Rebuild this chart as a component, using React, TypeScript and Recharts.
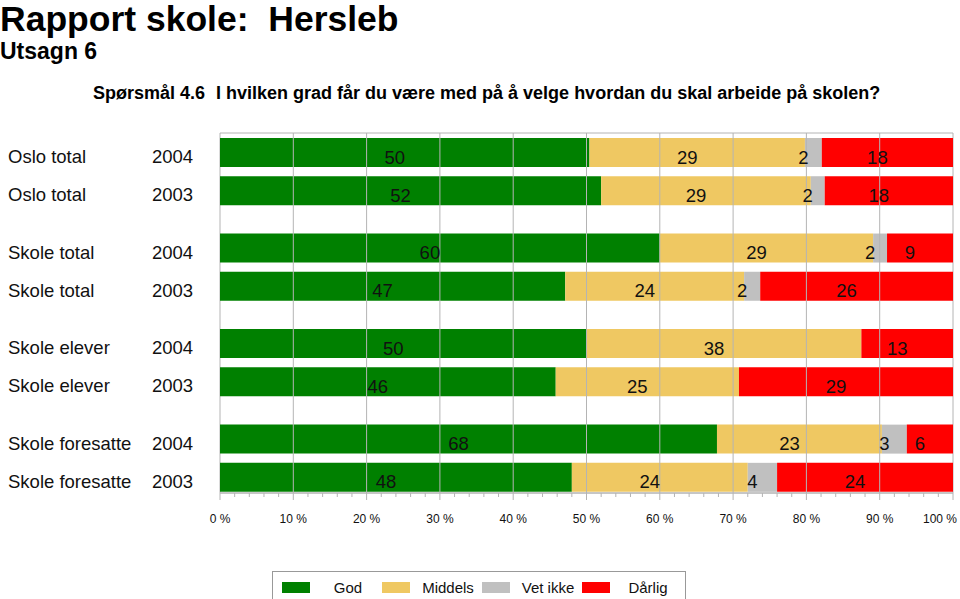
import { BarChart, Bar, XAxis, YAxis, LabelList, ReferenceLine, ReferenceArea, Legend } from 'recharts';

const groups = ['Oslo total', 'Oslo total', 'Skole total', 'Skole total', 'Skole elever', 'Skole elever', 'Skole foresatte', 'Skole foresatte'];
const years = ['2004', '2003', '2004', '2003', '2004', '2003', '2004', '2003'];
// row slots, with a half-row gap between the pairs
const rowPos = [0, 1, 2.5, 3.5, 5, 6, 7.5, 8.5];

const god = [50.4, 52.0, 60.0, 47.1, 50.0, 45.8, 67.8, 48.0];
const middels = [29.4, 28.6, 29.1, 24.4, 37.5, 25.0, 22.5, 24.0];
const vetIkke = [2.3, 1.9, 1.9, 2.2, 0, 0, 3.4, 4.0];
const darlig = [17.9, 17.5, 9.0, 26.3, 12.5, 29.2, 6.3, 24.0];

const xTicks = [0, 2, 4, 6, 8, 10, 12, 14, 16, 18, 20, 22, 24, 26, 28, 30, 32, 34, 36, 38, 40, 42, 44, 46, 48, 50, 52, 54, 56, 58, 60, 62, 64, 66, 68, 70, 72, 74, 76, 78, 80, 82, 84, 86, 88, 90, 92, 94, 96, 98, 100];
const gridTicks = [10, 20, 30, 40, 50, 60, 70, 80, 90];

const series = [
  { key: 'god', name: 'God', color: '#008000' },
  { key: 'middels', name: 'Middels', color: '#EFC862' },
  { key: 'vetIkke', name: 'Vet ikke', color: '#C0C0C0' },
  { key: 'darlig', name: 'Dårlig', color: '#FF0000' },
];

const data = rowPos.map((pos, i) => ({
  pos,
  god: god[i],
  middels: middels[i],
  vetIkke: vetIkke[i],
  darlig: darlig[i],
}));

const FONT = '"Liberation Sans", Arial, Helvetica, sans-serif';
const GRID = '#B4B4B4';

function BarLabel(props: any) {
  const { x, y, width, height, value } = props;
  if (!value) return null;
  return (
    <text
      x={x + width / 2 - 10}
      y={y + height / 2 + 11}
      textAnchor="middle"
      fontSize={18.5}
      fontFamily={FONT}
      fill="#111"
    >
      {Math.round(value)}
    </text>
  );
}

function RowTick(props: any) {
  const { y, payload } = props;
  const i = rowPos.indexOf(payload.value);
  if (i < 0) return null;
  return (
    <g fontFamily={FONT} fontSize={18.5} fill="#111">
      <text x={8} y={y + 11}>{groups[i]}</text>
      <text x={152} y={y + 11}>{years[i]}</text>
    </g>
  );
}

function PctTick(props: any) {
  const { x, y, payload } = props;
  const major = payload.value % 10 === 0;
  const last = payload.value === 100;
  return (
    <g>
      <line x1={x} x2={x} y1={y} y2={y + (major ? 7 : 4)} stroke={GRID} />
      {major && (
        <text
          x={last ? x + 4 : x}
          y={y + 29.5}
          textAnchor={last ? 'end' : 'middle'}
          fontSize={12}
          fontFamily={FONT}
          fill="#111"
        >
          {payload.value} %
        </text>
      )}
    </g>
  );
}

function LegendBox() {
  return (
    <div
      style={{
        border: '1px solid #999',
        height: 40,
        boxSizing: 'border-box',
        position: 'relative',
        fontFamily: FONT,
        fontSize: 15,
        color: '#111',
      }}
    >
      {series.map((s, i) => (
        <div key={s.key} style={{ position: 'absolute', left: 9 + i * 100, top: 9, width: 100, height: 14 }}>
          <div style={{ position: 'absolute', left: 0, top: 1, width: 28, height: 11, background: s.color }} />
          <div style={{ position: 'absolute', left: 30, top: -2, width: 72, textAlign: 'center', lineHeight: '18px' }}>
            {s.name}
          </div>
        </div>
      ))}
    </div>
  );
}

export default function App() {
  return (
    <div style={{ position: 'absolute', left: 0, top: 0, width: 960, height: 599, background: '#fff', fontFamily: FONT }}>
      <div style={{ position: 'absolute', left: 0, top: 1, fontSize: 35.5, lineHeight: '36px', fontWeight: 'bold', whiteSpace: 'pre' }}>
        {'Rapport skole:  Hersleb'}
      </div>
      <div style={{ position: 'absolute', left: 0, top: 40, fontSize: 23, lineHeight: '23px', fontWeight: 'bold' }}>
        Utsagn 6
      </div>
      <div style={{ position: 'absolute', left: 93, top: 84, fontSize: 18, lineHeight: '18px', fontWeight: 'bold', whiteSpace: 'pre' }}>
        Spørsmål 4.6
      </div>
      <div style={{ position: 'absolute', left: 216, top: 84, fontSize: 18, lineHeight: '18px', fontWeight: 'bold', whiteSpace: 'pre' }}>
        I hvilken grad får du være med på å velge hvordan du skal arbeide på skolen?
      </div>
      <div style={{ position: 'absolute', left: 0, top: 0 }}>
        <BarChart
          width={960}
          height={599}
          data={data}
          layout="vertical"
          margin={{ top: 133, right: 7, bottom: 66, left: 0 }}
        >
          <XAxis
            type="number"
            domain={[0, 100]}
            ticks={xTicks}
            interval={0}
            height={40}
            tickSize={0}
            tickMargin={0}
            tickLine={false}
            axisLine={{ stroke: GRID }}
            tick={<PctTick />}
          />
          <YAxis
            type="number"
            dataKey="pos"
            domain={[-0.5, 8.92]}
            ticks={rowPos}
            interval={0}
            width={220}
            axisLine={false}
            tickLine={false}
            tick={<RowTick />}
          />
          <ReferenceArea x1={0} x2={100} y1={-0.5} y2={8.92} fill="none" stroke={GRID} ifOverflow="visible" />
          {gridTicks.map((t) => (
            <ReferenceLine key={t} x={t} stroke={GRID} />
          ))}
          {series.map((s) => (
            <Bar key={s.key} dataKey={s.key} name={s.name} stackId="a" fill={s.color} barSize={29} isAnimationActive={false}>
              <LabelList dataKey={s.key} content={<BarLabel />} />
            </Bar>
          ))}
          <Legend
            layout="horizontal"
            verticalAlign="middle"
            align="center"
            content={<LegendBox />}
            wrapperStyle={{ left: 272, top: 571, width: 414, height: 40 }}
          />
        </BarChart>
      </div>
    </div>
  );
}
